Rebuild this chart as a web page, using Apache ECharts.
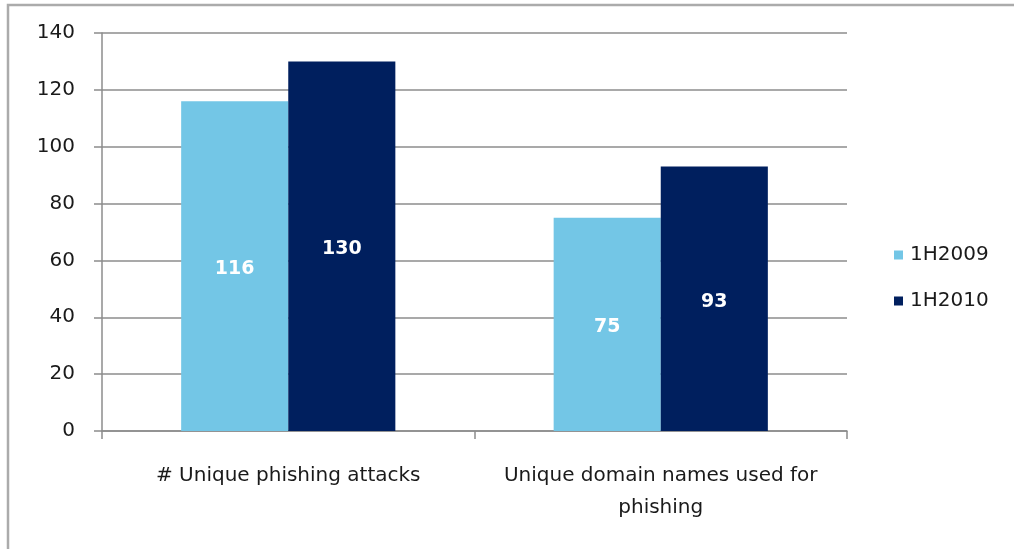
<!DOCTYPE html>
<html>
<head>
<meta charset="utf-8">
<script src="https://cdn.jsdelivr.net/npm/echarts@6/dist/echarts.min.js"></script>
<style>
  html, body { margin: 0; padding: 0; background: #fff; }
  #chart { width: 1014px; height: 549px; }
</style>
</head>
<body>
<div id="chart"></div>
<script>
// Phishing activity, first half of 2009 vs first half of 2010
const categories = ['# Unique phishing attacks', 'Unique domain names used for\nphishing'];
const seriesNames = ['1H2009', '1H2010'];
const values2009 = [116, 75];
const values2010 = [130, 93];
const colors = ['#73C6E6', '#001F5E'];

const FONT = 'DejaVu Sans';

const chart = echarts.init(document.getElementById('chart'), null, { renderer: 'canvas' });

const valueLabel = {
  show: true, position: 'inside', offset: [0, 3],
  color: '#ffffff', fontWeight: 'bold', fontSize: 19, fontFamily: FONT
};

chart.setOption({
  animation: false,
  backgroundColor: '#ffffff',
  textStyle: { fontFamily: FONT },
  graphic: [{
    type: 'polyline',
    shape: { points: [[8, 560], [8, 5], [1030, 5]] },
    style: { stroke: '#ababab', lineWidth: 2.5, fill: null },
    silent: true
  }],
  grid: { left: 102, right: 167, top: 33, bottom: 118 },
  legend: {
    orient: 'vertical',
    left: 889,
    top: 240,
    itemWidth: 9,
    itemHeight: 9,
    itemGap: 26,
    icon: 'rect',
    textStyle: { fontFamily: FONT, fontSize: 20, color: '#1a1a1a', padding: [0, 0, 0, 2] },
    data: seriesNames
  },
  xAxis: {
    type: 'category',
    data: categories,
    axisLine: { lineStyle: { color: '#8c8c8c', width: 1.5 } },
    axisTick: { show: true, length: 8, lineStyle: { color: '#8c8c8c', width: 1.5 } },
    axisLabel: {
      fontFamily: FONT, fontSize: 20, color: '#1a1a1a',
      margin: 29, lineHeight: 32, interval: 0, align: 'center'
    }
  },
  yAxis: {
    type: 'value',
    min: 0,
    max: 140,
    interval: 20,
    axisLine: { show: true, lineStyle: { color: '#8c8c8c', width: 1.5 } },
    axisTick: { show: true, length: 8, lineStyle: { color: '#8c8c8c', width: 1.5 } },
    splitLine: { lineStyle: { color: '#8c8c8c', width: 1.5 } },
    axisLabel: { fontFamily: FONT, fontSize: 20, color: '#1a1a1a', margin: 27, padding: [3, 0, 0, 0] }
  },
  series: [
    {
      name: seriesNames[0],
      type: 'bar',
      data: values2009,
      barGap: '0%',
      barCategoryGap: '42.5%',
      itemStyle: { color: colors[0] },
      label: valueLabel
    },
    {
      name: seriesNames[1],
      type: 'bar',
      data: values2010,
      barGap: '0%',
      barCategoryGap: '42.5%',
      itemStyle: { color: colors[1] },
      label: valueLabel
    }
  ]
});
</script>
</body>
</html>
